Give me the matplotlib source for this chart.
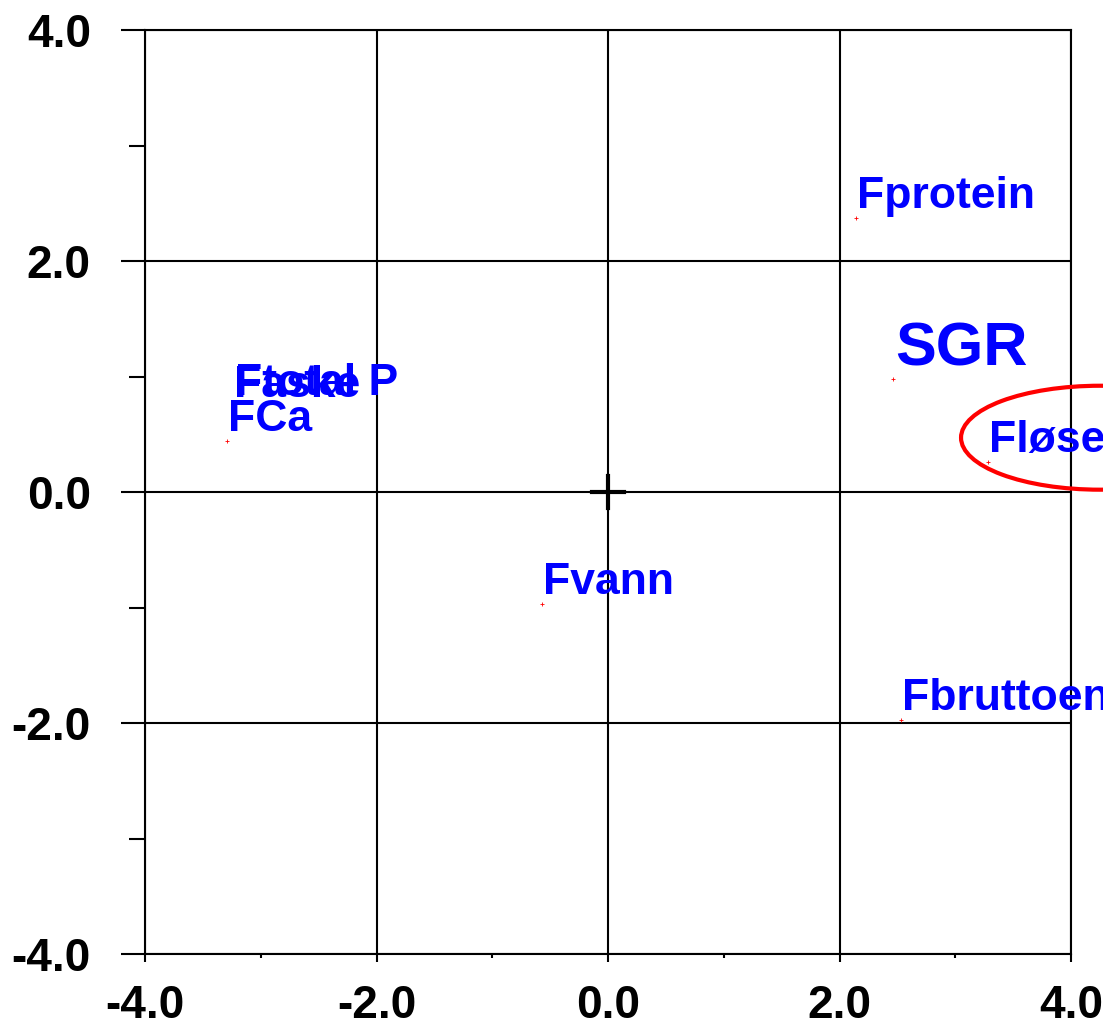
import matplotlib
matplotlib.use("Agg")
import matplotlib.pyplot as plt
from matplotlib.patches import Ellipse
from matplotlib.ticker import MultipleLocator

# variable names and their positions in the plot
names = ["Fprotein", "SGR", "Fløse", "Fbruttoenergi", "Fvann", "FCa", "Faske", "Ftotal P"]
xs = [2.14, 2.46, 3.28, 2.53, -0.57, -3.29, -3.24, -3.23]
ys = [2.37, 0.98, 0.26, -1.97, -0.97, 0.44, 0.74, 0.75]
sizes = [32, 44, 32, 32, 32, 32, 32, 32]

plt.rcParams["font.family"] = ["Liberation Sans", "DejaVu Sans"]
plt.rcParams["font.weight"] = "bold"

fig = plt.figure(figsize=(11.03, 10.24), dpi=100)
ax = fig.add_axes([145 / 1103, 70 / 1024, 926 / 1103, 924 / 1024])
ax.set_xlim(-4, 4)
ax.set_ylim(-4, 4)

ax.xaxis.set_major_locator(MultipleLocator(2))
ax.xaxis.set_minor_locator(MultipleLocator(1))
ax.yaxis.set_major_locator(MultipleLocator(2))
ax.yaxis.set_minor_locator(MultipleLocator(1))
ax.xaxis.set_major_formatter(lambda v, p: "%.1f" % v)
ax.yaxis.set_major_formatter(lambda v, p: "%.1f" % v)

ax.tick_params(axis="x", which="major", direction="out", length=5.5, width=1.5, pad=16, labelsize=33)
ax.tick_params(axis="x", which="minor", direction="out", length=3, width=1.5)
ax.tick_params(axis="y", which="major", direction="out", length=17, width=1.5, pad=22, labelsize=33)
ax.tick_params(axis="y", which="minor", direction="out", length=11.5, width=1.5)
for lab in ax.get_xticklabels() + ax.get_yticklabels():
    lab.set_fontweight("bold")

for s in ax.spines.values():
    s.set_linewidth(1.5)
ax.grid(True, which="major", color="black", linewidth=1.5)

# origin cross
ax.plot([-0.14, 0.14], [0, 0], color="black", lw=3, zorder=3)
ax.plot([0, 0], [-0.14, 0.14], color="black", lw=3, zorder=3)

ax.plot(xs, ys, "+", color="red", ms=3, mew=0.6, linestyle="none", zorder=4)
for n, x, y, fs in zip(names, xs, ys, sizes):
    off = (2, 13) if fs > 35 else (1, 10)
    ax.annotate(n, (x, y), xytext=off, textcoords="offset pixels",
                fontsize=fs, fontweight="bold", color="#0000ff",
                ha="left", va="baseline", annotation_clip=False, zorder=5)

ax.add_patch(Ellipse((4.25, 0.47), 2.4, 0.9, fill=False, ec="red", lw=3, clip_on=False, zorder=6))

fig.savefig("out.png", dpi=100)
